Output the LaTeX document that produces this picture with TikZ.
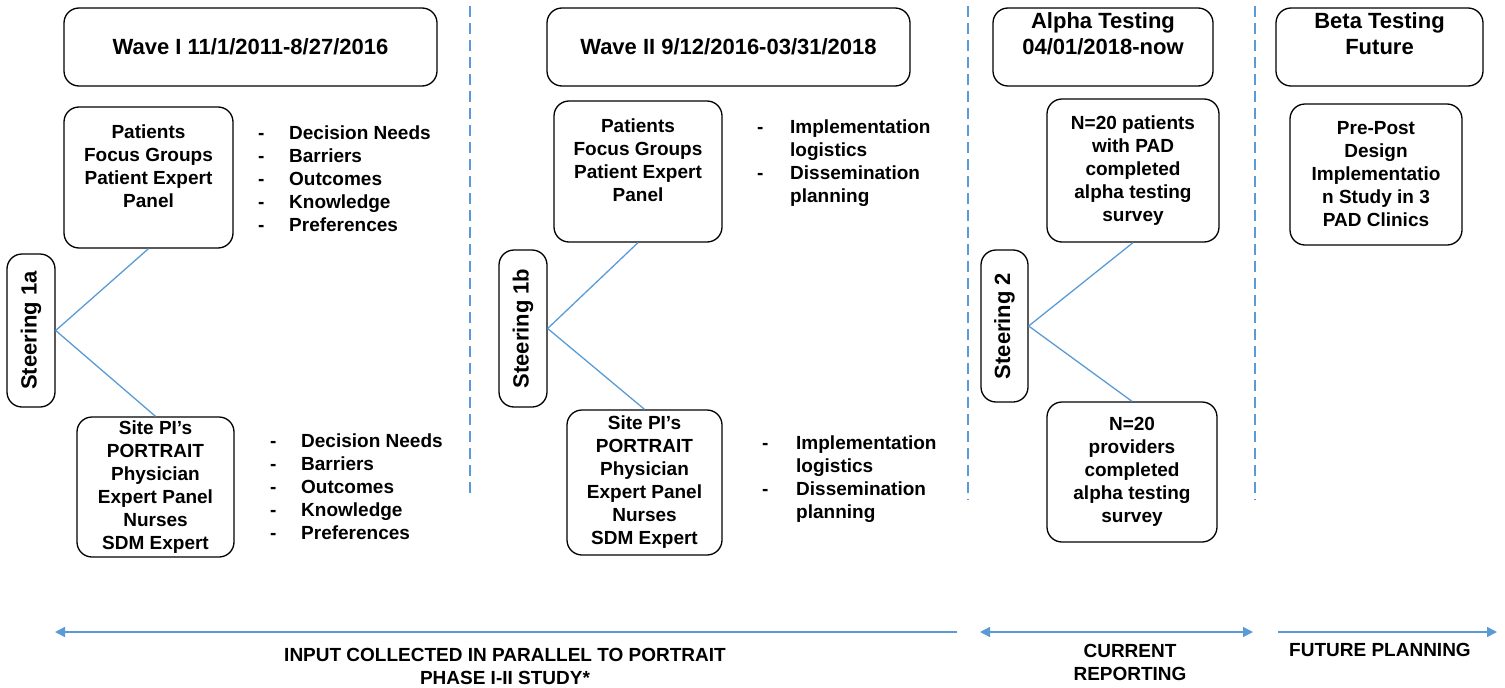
\documentclass[tikz,border=0pt]{standalone}
\usepackage{fontspec}
\setmainfont{Liberation Sans}
\usetikzlibrary{arrows.meta}
\definecolor{lineblue}{RGB}{91,155,213}
\newcommand{\bodyfnt}{\fontsize{19}{23}\selectfont\bfseries}
\newcommand{\headfnt}{\fontsize{22}{26}\selectfont\bfseries}
\tikzset{
  box/.style={draw=black, rounded corners=15pt, line width=1.3pt, align=center, inner sep=0pt, font=\bodyfnt},
  hbox/.style={box, font=\headfnt},
  conn/.style={draw=lineblue, line width=1.3pt},
  sepline/.style={draw=lineblue, line width=1.5pt, dash pattern=on 11pt off 6pt},
  span/.style={draw=lineblue, line width=1.5pt},
  tipa/.style={-{Triangle[length=10pt,width=10pt]}},
  bul/.style={anchor=base west, inner sep=0pt, font=\bodyfnt},
  foot/.style={align=center, inner sep=0pt, font=\bodyfnt},
}
\begin{document}
\begin{tikzpicture}[x=1pt,y=-1pt]
\useasboundingbox (0,0) rectangle (1505,688);

% separators
\draw[sepline] (470,6) -- (470,497);
\draw[sepline] (968,6) -- (968,500);
\draw[sepline] (1255,6) -- (1255,500);

% headers
\node[hbox, minimum width=373, minimum height=78] (h1) at (250.5,47) {Wave I 11/1/2011-8/27/2016};
\node[hbox, minimum width=363, minimum height=78] (h2) at (728.5,47) {Wave II 9/12/2016-03/31/2018};
\node[hbox, minimum width=220, minimum height=78] (h3) at (1103,47) {Alpha Testing\\04/01/2018-now\\ ~};
\node[hbox, minimum width=207, minimum height=78] (h4) at (1379.5,47) {Beta Testing\\Future\\ ~};

% Wave I
\node[box, minimum width=169, minimum height=141] (p1) at (148.5,177.5) {Patients\\Focus Groups\\Patient Expert\\Panel\\ ~};
\node[box, minimum width=157, minimum height=140] (q1) at (155.5,487) {Site PI’s\\PORTRAIT\\Physician\\Expert Panel\\Nurses\\SDM Expert};
\node[box, font=\headfnt, minimum width=48, minimum height=153] (s1) at (31,330.5) {\rotatebox{90}{Steering 1a}};
\draw[conn] (s1.east) -- (p1.south);
\draw[conn] (s1.east) -- (q1.north);
\node[bul] (b1) at (258,139) {\begin{tabular}[t]{@{}p{31pt}@{}l@{}}-&Decision Needs\\-&Barriers\\-&Outcomes\\-&Knowledge\\-&Preferences\end{tabular}};
\node[bul] (b2) at (270,447) {\begin{tabular}[t]{@{}p{31pt}@{}l@{}}-&Decision Needs\\-&Barriers\\-&Outcomes\\-&Knowledge\\-&Preferences\end{tabular}};

% Wave II
\node[box, minimum width=168, minimum height=141] (p2) at (638,171.5) {Patients\\Focus Groups\\Patient Expert\\Panel\\ ~};
\node[box, minimum width=155, minimum height=145] (q2) at (644.5,482.5) {Site PI’s\\PORTRAIT\\Physician\\Expert Panel\\Nurses\\SDM Expert};
\node[box, font=\headfnt, minimum width=48, minimum height=157] (s2) at (523,328.5) {\rotatebox{90}{Steering 1b}};
\draw[conn] (s2.east) -- (p2.south);
\draw[conn] (s2.east) -- (q2.north);
\node[bul] (b3) at (757,133) {\begin{tabular}[t]{@{}p{33pt}@{}l@{}}-&Implementation\\&logistics\\-&Dissemination\\&planning\end{tabular}};
\node[bul] (b4) at (762,449) {\begin{tabular}[t]{@{}p{34pt}@{}l@{}}-&Implementation\\&logistics\\-&Dissemination\\&planning\end{tabular}};

% Alpha
\node[box, minimum width=172, minimum height=143] (p3) at (1133,170.5) {N=20 patients\\with PAD\\completed\\alpha testing\\survey};
\node[box, minimum width=170, minimum height=140] (q3) at (1132,472) {N=20\\providers\\completed\\alpha testing\\survey};
\node[box, font=\headfnt, minimum width=47, minimum height=152] (s3) at (1004.5,326) {\rotatebox{90}{Steering 2}};
\draw[conn] (s3.east) -- (p3.south);
\draw[conn] (s3.east) -- (q3.north);

% Beta
\node[box, minimum width=172, minimum height=141] (p4) at (1376,174.5) {Pre-Post\\Design\\Implementatio\\n Study in 3\\PAD Clinics};

% bottom spans
\coordinate (a1s) at (957,632);
\coordinate (a1e) at (55,632);
\coordinate (a2s) at (980,632);
\coordinate (a2e) at (1253,632);
\coordinate (a3s) at (1278,632);
\coordinate (a3e) at (1497,632);
\draw[span, tipa] (a1s) -- (a1e);
\draw[span, {Triangle[length=10pt,width=10pt]}-{Triangle[length=10pt,width=10pt]}] (a2s) -- (a2e);
\draw[span, tipa] (a3s) -- (a3e);

\node[foot] (t1) at (505,666) {INPUT COLLECTED IN PARALLEL TO PORTRAIT\\PHASE I-II STUDY*};
\node[foot] (t2) at (1130,662) {CURRENT\\REPORTING};
\node[foot] (t3) at (1380,650) {FUTURE PLANNING};
\end{tikzpicture}
\end{document}
